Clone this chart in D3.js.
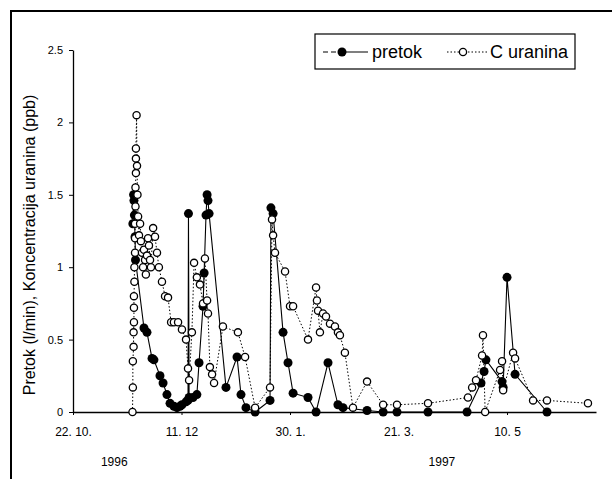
<!DOCTYPE html>
<html>
<head>
<meta charset="utf-8">
<script src="https://cdn.jsdelivr.net/npm/d3@7"></script>
<style>
    body { margin: 0; background: #fff; }
    svg { display: block; font-family: 'Liberation Sans', Arial, sans-serif; }
</style>
</head>
<body>
<div id="wrapper"></div>
<script>
// data; days counted from 22. 10. 1996
const startDate = '1996-10-22'
const endDate = '1997-06-20'
const tickDates = ['1996-10-22', '1996-12-11', '1997-01-30', '1997-03-21', '1997-05-10']
const tickLabels = ['22. 10.', '11. 12', '30. 1.', '21. 3.', '10. 5']
const yearDates = ['1996-11-10', '1997-04-10']
const yearLabels = ['1996', '1997']
const yTicks = [0, 0.5, 1, 1.5, 2, 2.5]
const yTickLabels = ['0', '0.5', '1', '1.5', '2', '2.5']
const seriesNames = ['pretok', 'C uranina']

const pretokDays = [27.6, 27.9, 28.1, 28.3, 28.6, 28.8, 32.7, 34.1, 36.4, 37.3, 40.1, 41.5, 43.3, 44.7, 46.5, 47.9,
    49.3, 50.2, 52.1, 53.0, 53.2, 53.5, 55.3, 57.1, 58.1, 59.9, 60.4, 61.3, 61.8, 62.2, 62.7, 70.5, 75.6, 77.4,
    79.7, 83.9, 90.8, 91.2, 92.2, 96.8, 99.1, 101.4, 108.3, 112.0, 117.5, 122.1, 124.4, 135.5, 142.9, 149.3,
    163.6, 181.6, 188.0, 189.4, 190.3, 197.7, 198.2, 200.0, 203.7, 218.4]
const pretokValues = [1.3, 1.5, 1.46, 1.36, 1.21, 1.05, 0.58, 0.55, 0.37, 0.36, 0.25, 0.2, 0.12, 0.06, 0.04, 0.03,
    0.04, 0.05, 0.07, 0.08, 1.37, 0.1, 0.1, 0.12, 0.34, 0.73, 0.96, 1.36, 1.5, 1.46, 1.37, 0.17, 0.38, 0.12,
    0.03, 0, 0.08, 1.41, 1.37, 0.55, 0.34, 0.13, 0.1, 0, 0.34, 0.05, 0.03, 0.01, 0, 0,
    0, 0, 0.2, 0.28, 0.36, 0.21, 0.17, 0.93, 0.26, 0]

const uraninaDays = [27.4, 27.6, 27.6, 27.9, 27.9, 28.1, 28.1, 28.1, 28.3, 28.3, 28.6, 28.6, 28.6, 28.8, 28.8, 29.0,
    29.0, 29.0, 29.3, 29.5, 29.7, 30.0, 30.4, 30.9, 31.3, 31.8, 32.3, 32.7, 33.2, 33.6, 34.1, 34.6, 35.0, 35.5,
    35.9, 36.9, 37.8, 38.7, 39.6, 41.0, 42.4, 43.8, 45.2, 46.5, 48.4, 50.2, 52.1, 53.0, 53.5, 54.8, 55.8, 57.1,
    58.5, 59.9, 60.8, 61.8, 62.2, 63.1, 64.1, 65.0, 69.1, 76.0, 79.3, 83.9, 90.8, 91.7, 92.2, 93.1, 97.7, 100.0,
    101.4, 108.3, 112.0, 112.4, 112.9, 113.8, 115.2, 116.6, 118.4, 120.7, 122.1, 123.0, 125.3, 129.0, 135.5,
    142.9, 149.3, 163.6, 182.0, 183.9, 185.7, 188.5, 188.9, 189.9, 196.8, 197.7, 198.2, 202.8, 203.7, 212.0,
    218.4, 237.3]
const uraninaValues = [0, 0.17, 0.35, 0.45, 0.55, 0.62, 0.72, 0.8, 0.9, 1.0, 1.1, 1.2, 1.3, 1.42, 1.55, 1.65,
    1.75, 1.82, 2.05, 1.7, 1.5, 1.35, 1.22, 1.3, 1.18, 1.1, 1.0, 1.12, 1.05, 0.95, 1.08, 1.2, 1.15, 1.05,
    1.0, 1.27, 1.21, 1.1, 1.0, 0.9, 0.8, 0.79, 0.62, 0.62, 0.62, 0.57, 0.5, 0.3, 0.22, 0.55, 1.03, 0.93,
    0.88, 0.75, 1.06, 0.77, 0.68, 0.31, 0.26, 0.2, 0.59, 0.55, 0.38, 0.03, 0.17, 1.33, 1.22, 1.1, 0.97, 0.73,
    0.73, 0.5, 0.86, 0.77, 0.7, 0.55, 0.68, 0.66, 0.61, 0.59, 0.55, 0.53, 0.41, 0.03, 0.21,
    0.05, 0.05, 0.06, 0.1, 0.17, 0.22, 0.39, 0.53, 0, 0.29, 0.35, 0.15, 0.41, 0.37, 0.08,
    0.08, 0.06]

function drawChart() {
    const parseDate = d3.utcParse('%Y-%m-%d')
    const start = parseDate(startDate)
    const toDate = d => d3.utcHour.offset(start, Math.round(d * 24))

    const pretok = pretokDays.map((d, i) => ({ date: toDate(d), value: pretokValues[i] }))
    const uranina = uraninaDays.map((d, i) => ({ date: toDate(d), value: uraninaValues[i] }))

    let dimensions = {
        width: 612,
        height: 479,
        margin: { top: 50, right: 16, bottom: 67, left: 73 }
    }
    dimensions.boundedWidth = dimensions.width - dimensions.margin.left - dimensions.margin.right
    dimensions.boundedHeight = dimensions.height - dimensions.margin.top - dimensions.margin.bottom

    const svg = d3.select('#wrapper').append('svg')
        .attr('width', dimensions.width)
        .attr('height', dimensions.height)

    // scanned page frame
    svg.append('path')
        .attr('d', 'M11,479V11H612')
        .attr('fill', 'none')
        .attr('stroke', '#000')
        .attr('stroke-width', 2)

    const bounds = svg.append('g')
        .attr('transform', `translate(${dimensions.margin.left}, ${dimensions.margin.top})`)

    const xScale = d3.scaleUtc()
        .domain([start, parseDate(endDate)])
        .range([0, dimensions.boundedWidth])

    const yScale = d3.scaleLinear()
        .domain([0, 2.5])
        .range([dimensions.boundedHeight, 0])

    const xAxis = d3.axisBottom(xScale)
        .tickValues(tickDates.map(parseDate))
        .tickFormat((d, i) => tickLabels[i])
        .tickSize(3)
        .tickSizeOuter(0)
        .tickPadding(12)

    const yAxis = d3.axisLeft(yScale)
        .tickValues(yTicks)
        .tickFormat((d, i) => yTickLabels[i])
        .tickSize(4)
        .tickSizeOuter(0)
        .tickPadding(6)

    const xAxisG = bounds.append('g')
        .attr('transform', `translate(0, ${dimensions.boundedHeight})`)
        .call(xAxis)
    xAxisG.selectAll('text').attr('font-size', 12).attr('fill', '#000')
    xAxisG.select('.domain').attr('stroke-width', 1.3)

    const yAxisG = bounds.append('g').call(yAxis)
    yAxisG.selectAll('text').attr('font-size', 11).attr('fill', '#000')
    yAxisG.select('.domain').attr('stroke-width', 1.3)

    bounds.selectAll('.year')
        .data(yearLabels)
        .enter()
        .append('text')
        .attr('class', 'year')
        .attr('x', (d, i) => xScale(parseDate(yearDates[i])))
        .attr('y', dimensions.boundedHeight + 54)
        .attr('text-anchor', 'middle')
        .attr('font-size', 12)
        .text(d => d)

    svg.append('text')
        .attr('transform', `translate(35, 245) rotate(-90)`)
        .attr('text-anchor', 'middle')
        .attr('font-size', 16)
        .text('Pretok (l/min), Koncentracija uranina (ppb)')

    const line = d3.line()
        .x(d => xScale(d.date))
        .y(d => yScale(d.value))

    bounds.append('path')
        .datum(pretok)
        .attr('d', line)
        .attr('fill', 'none')
        .attr('stroke', '#000')
        .attr('stroke-width', 1.1)

    bounds.selectAll('.pretok')
        .data(pretok)
        .enter()
        .append('circle')
        .attr('class', 'pretok')
        .attr('cx', d => xScale(d.date))
        .attr('cy', d => yScale(d.value))
        .attr('r', 4.5)
        .attr('fill', '#000')

    bounds.append('path')
        .datum(uranina)
        .attr('d', line)
        .attr('fill', 'none')
        .attr('stroke', '#000')
        .attr('stroke-width', 1)
        .attr('stroke-dasharray', '1.5,2')

    bounds.selectAll('.uranina')
        .data(uranina)
        .enter()
        .append('circle')
        .attr('class', 'uranina')
        .attr('cx', d => xScale(d.date))
        .attr('cy', d => yScale(d.value))
        .attr('r', 3.6)
        .attr('fill', '#fff')
        .attr('stroke', '#000')
        .attr('stroke-width', 1.3)

    // legend
    const legend = svg.append('g')
    legend.append('rect')
        .attr('x', 315)
        .attr('y', 34)
        .attr('width', 260)
        .attr('height', 35)
        .attr('fill', '#fff')
        .attr('stroke', '#000')
        .attr('stroke-width', 1.2)

    legend.append('line')
        .attr('x1', 323).attr('x2', 368)
        .attr('y1', 52).attr('y2', 52)
        .attr('stroke', '#000')
        .attr('stroke-width', 1.1)
        .attr('stroke-dasharray', '5,3,5,3,40')
    legend.append('circle')
        .attr('cx', 342).attr('cy', 52).attr('r', 4.5)
        .attr('fill', '#000')
    legend.append('text')
        .attr('x', 372).attr('y', 58)
        .attr('font-size', 18)
        .text(seriesNames[0])

    legend.append('line')
        .attr('x1', 447).attr('x2', 487)
        .attr('y1', 52).attr('y2', 52)
        .attr('stroke', '#000')
        .attr('stroke-dasharray', '1.5,2')
    legend.append('circle')
        .attr('cx', 463).attr('cy', 52).attr('r', 3.6)
        .attr('fill', '#fff')
        .attr('stroke', '#000')
        .attr('stroke-width', 1.3)
    legend.append('text')
        .attr('x', 490).attr('y', 58)
        .attr('font-size', 18)
        .text(seriesNames[1])
}

drawChart()
</script>
</body>
</html>
